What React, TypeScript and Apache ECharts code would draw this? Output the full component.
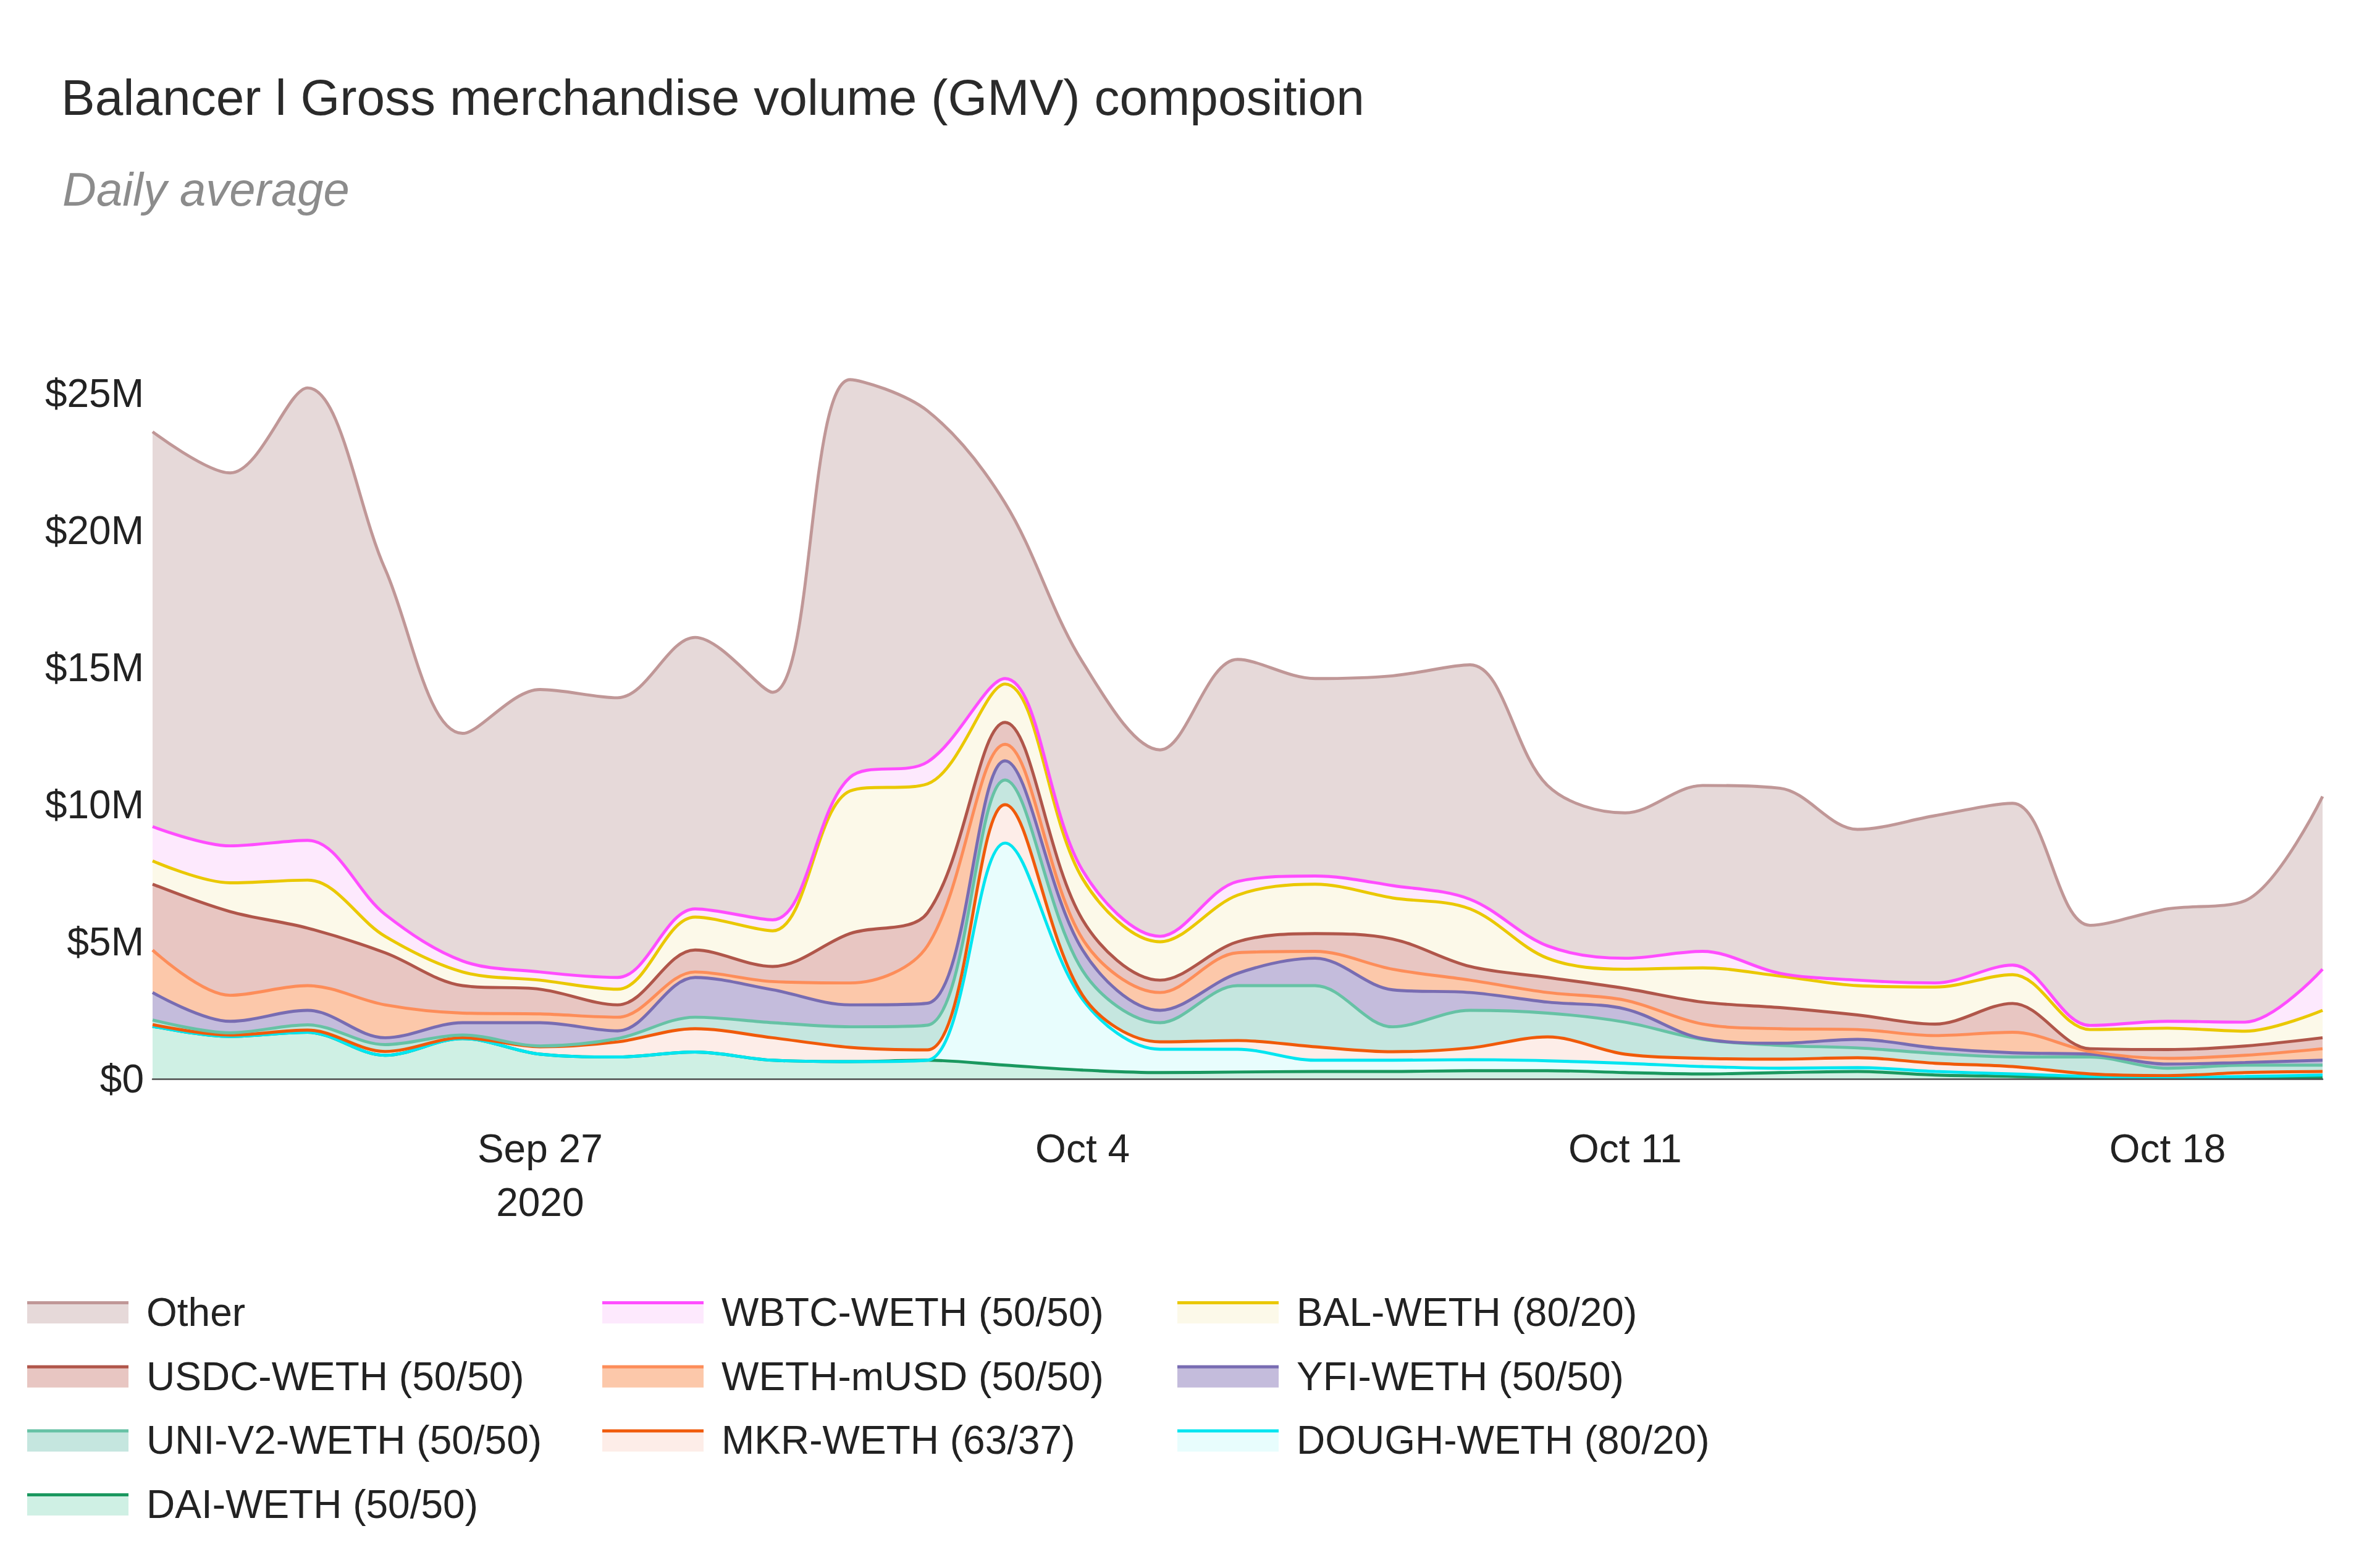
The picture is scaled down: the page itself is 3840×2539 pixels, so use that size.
import React, { useEffect, useRef } from "react";
import * as echarts from "echarts";

// ---- categories (daily) ----
const dates = [
  "2020-09-22", "2020-09-23", "2020-09-24", "2020-09-25", "2020-09-26", "2020-09-27",
  "2020-09-28", "2020-09-29", "2020-09-30", "2020-10-01", "2020-10-02", "2020-10-03",
  "2020-10-04", "2020-10-05", "2020-10-06", "2020-10-07", "2020-10-08", "2020-10-09",
  "2020-10-10", "2020-10-11", "2020-10-12", "2020-10-13", "2020-10-14", "2020-10-15",
  "2020-10-16", "2020-10-17", "2020-10-18", "2020-10-19", "2020-10-20",
];

// ---- tick labels ----
const xTickDates = ["2020-09-27", "2020-10-04", "2020-10-11", "2020-10-18"];
const xTickLabels = ["Sep 27\n2020", "Oct 4", "Oct 11", "Oct 18"];
const yTicks = [0, 5, 10, 15, 20, 25];
const yTickLabels = ["$0", "$5M", "$10M", "$15M", "$20M", "$25M"];

// ---- series values (USD millions), bottom of stack first ----
const daiWeth = [1.92, 1.55, 1.7, 0.86, 1.47, 0.9, 0.8, 0.98, 0.68, 0.63, 0.68, 0.5, 0.32, 0.23, 0.25, 0.27, 0.27, 0.3, 0.3, 0.23, 0.18, 0.23, 0.27, 0.14, 0.09, 0.04, 0.04, 0.04, 0.05];
const doughWeth = [0, 0, 0, 0, 0, 0, 0, 0, 0, 0, 0, 8.1, 2.58, 0.85, 0.83, 0.41, 0.41, 0.4, 0.36, 0.34, 0.27, 0.16, 0.14, 0.13, 0.09, 0.05, 0.02, 0.05, 0.09];
const mkrWeth = [0.06, 0.05, 0.08, 0.14, 0.03, 0.27, 0.55, 0.85, 0.82, 0.52, 0.38, 1.4, 0.15, 0.27, 0.32, 0.49, 0.31, 0.43, 0.87, 0.33, 0.3, 0.33, 0.36, 0.3, 0.27, 0.09, 0.06, 0.14, 0.13];
const uniV2Weth = [0.17, 0.08, 0.19, 0.25, 0.1, 0.03, 0.12, 0.42, 0.55, 0.75, 0.9, 0.9, 0.9, 0.7, 2.0, 2.23, 0.91, 1.37, 0.87, 1.17, 0.69, 0.5, 0.36, 0.36, 0.35, 0.62, 0.27, 0.27, 0.23];
const yfiWeth = [1.0, 0.42, 0.53, 0.25, 0.45, 0.85, 0.28, 1.45, 1.2, 0.8, 0.8, 0.7, 0.75, 0.45, 0.45, 1.0, 1.35, 0.65, 0.4, 0.48, 0.03, 0.08, 0.31, 0.2, 0.15, 0.1, 0.15, 0.1, 0.18];
const wethMusd = [1.55, 0.95, 0.9, 1.2, 0.35, 0.32, 0.5, 0.2, 0.3, 0.8, 2.1, 0.6, 0.4, 0.65, 0.75, 0.25, 0.75, 0.45, 0.35, 0.32, 0.53, 0.53, 0.36, 0.45, 0.75, 0.1, 0.21, 0.26, 0.42];
const usdcWeth = [2.4, 3.05, 2.1, 1.9, 1.0, 0.9, 0.45, 0.8, 0.55, 1.8, 1.2, 0.8, 0.7, 0.45, 0.4, 0.65, 1.1, 0.5, 0.55, 0.43, 0.8, 0.77, 0.53, 0.42, 1.05, 0.1, 0.32, 0.34, 0.4];
const balWeth = [0.85, 1.05, 1.75, 0.6, 0.5, 0.33, 0.57, 1.2, 1.3, 5.2, 4.7, 1.4, 1.5, 1.4, 1.7, 1.8, 1.5, 2.1, 0.7, 0.7, 1.25, 1.15, 1.07, 1.35, 1.05, 0.7, 0.78, 0.54, 1.0];
const wbtcWeth = [1.25, 1.35, 1.45, 0.8, 0.4, 0.3, 0.43, 0.3, 0.4, 0.5, 0.8, 0.2, 0.3, 0.2, 0.5, 0.3, 0.45, 0.35, 0.45, 0.4, 0.6, 0.1, 0.2, 0.15, 0.35, 0.15, 0.25, 0.33, 1.5];
const other = [14.4, 13.6, 16.5, 12.6, 8.3, 10.3, 10.2, 9.9, 8.3, 14.5, 12.8, 6.4, 7.6, 6.8, 8.1, 7.2, 7.65, 8.55, 5.85, 5.3, 6.05, 6.75, 5.5, 6.1, 5.9, 3.65, 4.1, 4.43, 6.3];

const seriesNames = [
  "DAI-WETH (50/50)",
  "DOUGH-WETH (80/20)",
  "MKR-WETH (63/37)",
  "UNI-V2-WETH (50/50)",
  "YFI-WETH (50/50)",
  "WETH-mUSD (50/50)",
  "USDC-WETH (50/50)",
  "BAL-WETH (80/20)",
  "WBTC-WETH (50/50)",
  "Other",
];
const seriesValues = [daiWeth, doughWeth, mkrWeth, uniV2Weth, yfiWeth, wethMusd, usdcWeth, balWeth, wbtcWeth, other];
const lineColors = ["#1a985f", "#00e5f0", "#f05a0a", "#66c2a5", "#786cb2", "#fd8d59", "#b0564a", "#eac800", "#ff4dff", "#c09797"];
const fillColors = ["#cff0e4", "#e8fdfd", "#fdede8", "#c5e6df", "#c4bcdc", "#fcc8aa", "#e8c6c2", "#fcf9e9", "#fde9fd", "#e6d9d9"];

const FONT = "'Liberation Sans', Arial, Helvetica, sans-serif";
const SMOOTH = 0.34;

function buildOption() {
  const areaSeries = seriesNames.map((name, i) => ({
    name,
    type: "line",
    stack: "area",
    smooth: SMOOTH,
    symbol: "none",
    z: 2,
    lineStyle: { width: 0, opacity: 0 },
    areaStyle: { color: fillColors[i], opacity: 1 },
    data: seriesValues[i],
  }));
  const lineSeries = seriesNames.map((name, i) => ({
    name: name + " line",
    type: "line",
    stack: "line",
    smooth: SMOOTH,
    symbol: "none",
    z: 3,
    lineStyle: { width: 4.9, color: lineColors[i] },
    data: seriesValues[i],
  }));

  // legend (row-major, top of stack first)
  const legendEls: any[] = [];
  const legendOrder = seriesNames.map((_, i) => seriesNames.length - 1 - i);
  legendOrder.forEach((si, k) => {
    const row = Math.floor(k / 3);
    const col = k % 3;
    const x = 44 + col * 931;
    const y = 2107 + row * 103.7;
    legendEls.push({
      type: "rect",
      shape: { x, y, width: 164, height: 36 },
      style: { fill: fillColors[si] },
    });
    legendEls.push({
      type: "rect",
      shape: { x, y, width: 164, height: 5 },
      style: { fill: lineColors[si] },
    });
    legendEls.push({
      type: "text",
      x: x + 193,
      y: y + 18,
      style: {
        text: seriesNames[si],
        fontSize: 64,
        fontFamily: FONT,
        fill: "#222222",
        verticalAlign: "middle",
        align: "left",
      },
    });
  });

  return {
    animation: false,
    backgroundColor: "#ffffff",
    grid: { left: 247, right: 80, top: 1747 - 28 * 44.4, bottom: 2539 - 1747 },
    xAxis: {
      type: "category",
      data: dates,
      boundaryGap: false,
      z: 5,
      axisLine: { show: true, lineStyle: { color: "#4d4d4d", width: 2.5 } },
      axisTick: { show: false },
      splitLine: { show: false },
      axisLabel: {
        interval: (_index: number, value: string) => xTickDates.indexOf(value) >= 0,
        formatter: (value: string) => {
          const i = xTickDates.indexOf(value);
          return i >= 0 ? xTickLabels[i] : "";
        },
        fontSize: 64,
        fontFamily: FONT,
        color: "#222222",
        lineHeight: 87,
        margin: 69,
      },
    },
    yAxis: {
      type: "value",
      min: 0,
      max: 28,
      interval: 5,
      axisLine: { show: false },
      axisTick: { show: false },
      splitLine: { show: false },
      axisLabel: {
        showMaxLabel: false,
        formatter: (v: number) => {
          const i = yTicks.indexOf(v);
          return i >= 0 ? yTickLabels[i] : "";
        },
        fontSize: 64,
        fontFamily: FONT,
        color: "#222222",
        margin: 14,
      },
    },
    graphic: [
      {
        type: "text",
        x: 99,
        y: 157,
        style: {
          text: "Balancer l Gross merchandise volume (GMV) composition",
          fontSize: 82,
          fontFamily: FONT,
          fill: "#2a2a2a",
          verticalAlign: "middle",
        },
      },
      {
        type: "text",
        x: 101,
        y: 306,
        style: {
          text: "Daily average",
          fontSize: 76,
          fontStyle: "italic",
          fontFamily: FONT,
          fill: "#8c8c8c",
          verticalAlign: "middle",
        },
      },
      ...legendEls,
    ],
    series: [...areaSeries, ...lineSeries],
  };
}

export default function App() {
  const ref = useRef<HTMLDivElement>(null);
  useEffect(() => {
    if (!ref.current) return;
    const chart = echarts.init(ref.current, undefined, { renderer: "svg" });
    chart.setOption(buildOption() as any);
    return () => chart.dispose();
  }, []);
  return (
    <div
      ref={ref}
      style={{ position: "fixed", left: 0, top: 0, width: "3840px", height: "2539px", background: "#ffffff" }}
    />
  );
}
